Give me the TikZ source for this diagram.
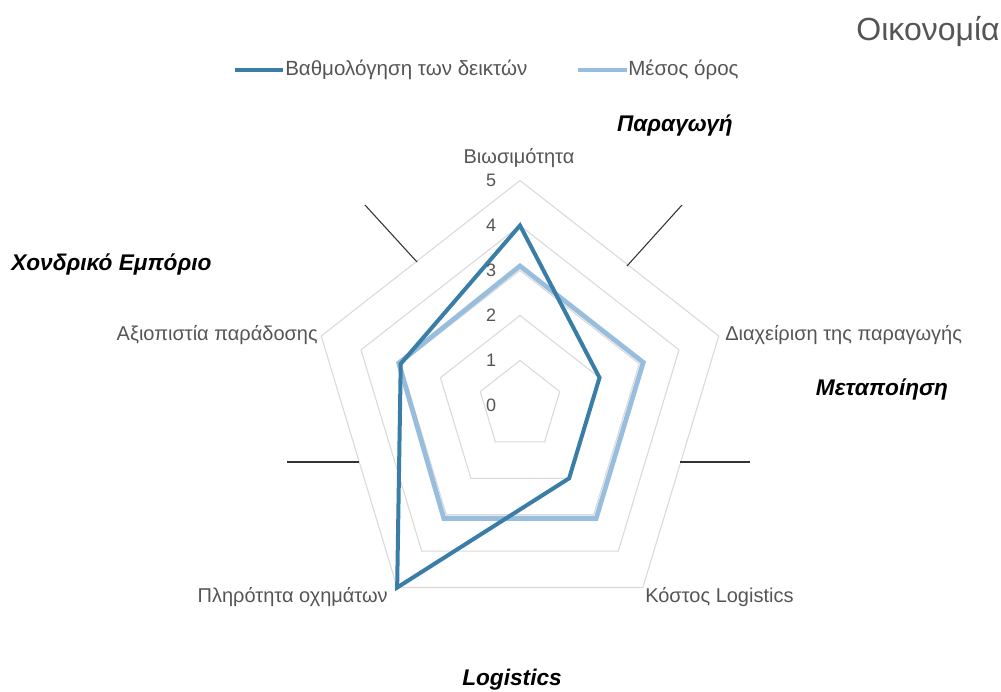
\documentclass[tikz,border=0pt]{standalone}
\usepackage{fontspec}
\setmainfont{Liberation Sans}
\definecolor{darkblue}{HTML}{3A7DA6}
\definecolor{lightblue}{HTML}{8FB8DA}
\definecolor{gridgray}{HTML}{DADADA}
\definecolor{txtgray}{HTML}{555555}
\begin{document}
\begin{tikzpicture}[x=0.75pt,y=-0.75pt,
  axislabel/.style={font=\fontsize{15}{18}\selectfont, text=txtgray, inner sep=0pt},
  scalelabel/.style={font=\fontsize{13.5}{16}\selectfont, text=txtgray, inner sep=0pt},
  header/.style={font=\fontsize{17}{20}\selectfont\bfseries\itshape, text=black, inner sep=0pt},
  legendtext/.style={font=\fontsize{15.4}{18}\selectfont, text=txtgray, inner sep=0pt, anchor=west},
  gridline/.style={draw=gridgray, line width=0.8pt, line join=miter},
  sepline/.style={draw=black!80, line width=0.8pt},
  scoreline/.style={draw=darkblue, line width=3pt, line join=miter},
  avgline/.style={draw=lightblue, line width=3.6pt, line join=miter, draw opacity=0.9}]
\useasboundingbox (0,0) rectangle (1001,692);
\fill[white] (0,0) rectangle (1001,692);

% title
\node[font=\fontsize{24}{28}\selectfont, text=txtgray, inner sep=0pt, anchor=east] (title) at (1000,32) {Οικονομία};

% legend
\coordinate (l1a) at (235,70);
\coordinate (l1b) at (283,70);
\draw[scoreline, line cap=butt] (l1a) -- (l1b);
\node[legendtext] (leg1) at (285,70) {Βαθμολόγηση των δεικτών};
\coordinate (l2a) at (578,70);
\coordinate (l2b) at (627,70);
\draw[avgline, line cap=butt] (l2a) -- (l2b);
\node[legendtext] (leg2) at (628,70) {Μέσος όρος};

% radar chart
\begin{scope}[shift={(520,405.5)}, x=31.35pt, y=33.75pt]
  \foreach \r in {1,...,5} {
    \draw[gridline] (90:\r) -- (18:\r) -- (-54:\r) -- (-126:\r) -- (162:\r) -- cycle;
  }
  \draw[avgline] (90:3.1) -- (18:3.1) -- (-54:3.1) -- (-126:3.1) -- (162:3.05) -- cycle;
  \draw[scoreline] (90:4) -- (18:2) -- (-54:2) -- (-126:5) -- (162:3) -- cycle;
  \foreach \r in {0,...,5} {
    \node[scalelabel] (s\r) at (-0.69,\r) {\r};
  }
\end{scope}

% axis labels
\node[axislabel] (ax1) at (519,158) {Βιωσιμότητα};
\node[axislabel, anchor=west] (ax2) at (725,335) {Διαχείριση της παραγωγής};
\node[axislabel, anchor=west] (ax3) at (645,597) {Κόστος Logistics};
\node[axislabel, anchor=east] (ax4) at (388,597) {Πληρότητα οχημάτων};
\node[axislabel, anchor=east] (ax5) at (318,335) {Αξιοπιστία παράδοσης};

% sector headers
\node[header] (h1) at (675,126) {Παραγωγή};
\node[header, anchor=west] (h2) at (11,265) {Χονδρικό Εμπόριο};
\node[header] (h3) at (882,390) {Μεταποίηση};
\node[header] (h4) at (512,680) {Logistics};

% separators
\coordinate (p1a) at (365,205); \coordinate (p1b) at (417,262);
\coordinate (p2a) at (682,205); \coordinate (p2b) at (627,266);
\coordinate (p3a) at (287,462); \coordinate (p3b) at (359,462);
\coordinate (p4a) at (680,462); \coordinate (p4b) at (750,462);
\draw[sepline] (p1a) -- (p1b);
\draw[sepline] (p2a) -- (p2b);
\draw[sepline] (p3a) -- (p3b);
\draw[sepline] (p4a) -- (p4b);
\end{tikzpicture}
\end{document}
